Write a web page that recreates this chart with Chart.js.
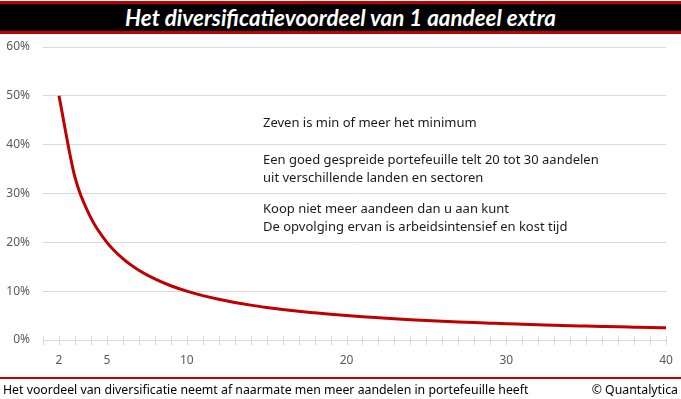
<!DOCTYPE html>
<html>
<head>
<meta charset="utf-8">
<script src="https://cdn.jsdelivr.net/npm/chart.js@4"></script>
<style>
  html, body { margin: 0; padding: 0; background: #fff; }
  #wrap { position: relative; width: 681px; height: 399px; overflow: hidden; font-family: 'Noto Sans', sans-serif; }
  #titel {
    position: absolute; left: 0; top: 1px; width: 681px; height: 27px;
    background: #000; border-top: 3px solid #c00000; border-bottom: 3px solid #c00000;
    color: #fff; font-family: Lato, sans-serif; font-style: italic; font-weight: 700;
    font-size: 22.4px; line-height: 27px; text-align: center;
  }
  #c { position: absolute; left: 0; top: 0; }
  .noot { position: absolute; left: 263px; font-size: 13px; color: #1a1a1a; line-height: 18px; white-space: nowrap; }
  #voet { position: absolute; left: 0; top: 377px; width: 681px; border-top: 2px solid #c00000; }
  #voet span { position: absolute; top: 2px; font-size: 12.3px; color: #000; white-space: nowrap; }
</style>
</head>
<body>
<div id="wrap">
  <canvas id="c" width="681" height="399"></canvas>
  <div id="titel">Het diversificatievoordeel van 1 aandeel extra</div>
  <div class="noot" style="top:113px">Zeven is min of meer het minimum</div>
  <div class="noot" style="top:150px">Een goed gespreide portefeuille telt 20 tot 30 aandelen<br>uit verschillende landen en sectoren</div>
  <div class="noot" style="top:199px">Koop niet meer aandeen dan u aan kunt<br>De opvolging ervan is arbeidsintensief en kost tijd</div>
  <div id="voet">
    <span style="left:3px">Het voordeel van diversificatie neemt af naarmate men meer aandelen in portefeuille heeft</span>
    <span style="right:3px">© Quantalytica</span>
  </div>
</div>
<script>
// aantal aandelen in de portefeuille
const aantalAandelen = [2, 3, 4, 5, 6, 7, 8, 9, 10, 11, 12, 13, 14, 15, 16, 17, 18, 19, 20,
    21, 22, 23, 24, 25, 26, 27, 28, 29, 30, 31, 32, 33, 34, 35, 36, 37, 38, 39, 40];
// voordeel van 1 aandeel extra (%)
const voordeel = [50, 33.33, 25, 20, 16.67, 14.29, 12.5, 11.11, 10, 9.09, 8.33, 7.69, 7.14, 6.67, 6.25, 5.88, 5.56, 5.26, 5,
    4.76, 4.55, 4.35, 4.17, 4, 3.85, 3.7, 3.57, 3.45, 3.33, 3.23, 3.13, 3.03, 2.94, 2.86, 2.78, 2.7, 2.63, 2.56, 2.5];
// labels die op de x-as getoond worden
const xLabels = [2, 5, 10, 20, 30, 40];
const yTicks = [0, 10, 20, 30, 40, 50, 60];

// kleine streepjes die door de x-as heen lopen
const asStreepjes = {
    id: 'asStreepjes',
    afterDraw(chart) {
        const x = chart.scales.x;
        const ctx = chart.ctx;
        const y = chart.chartArea.bottom;
        ctx.save();
        ctx.strokeStyle = '#d9d9d9';
        ctx.lineWidth = 1;
        x.ticks.forEach(t => {
            const px = Math.round(x.getPixelForValue(t.value)) + 0.5;
            ctx.beginPath();
            ctx.moveTo(px, y - 4);
            ctx.lineTo(px, y + 5);
            ctx.stroke();
        });
        ctx.restore();
    }
};

const ctx = document.getElementById('c');
new Chart(ctx, {
    type: 'line',
    data: {
        datasets: [{
            data: aantalAandelen.map((n, i) => ({ x: n, y: voordeel[i] })),
            borderColor: '#c00000',
            borderWidth: 3,
            pointRadius: 0,
            cubicInterpolationMode: 'monotone',
            fill: false
        }]
    },
    options: {
        responsive: false,
        animation: false,
        devicePixelRatio: 1,
        layout: { padding: { left: 0, top: 47, right: 15, bottom: 29 } },
        plugins: { legend: { display: false }, tooltip: { enabled: false } },
        scales: {
            x: {
                type: 'linear',
                min: 1,
                max: 40,
                afterFit: s => { s.height = 30; s.paddingLeft = 0; s.paddingRight = 0; },
                grid: { drawOnChartArea: false, drawTicks: false },
                border: { color: '#d9d9d9' },
                ticks: {
                    stepSize: 1,
                    autoSkip: false,
                    maxRotation: 0,
                    padding: 13,
                    color: '#595959',
                    font: { family: 'Noto Sans', size: 12 },
                    callback: v => xLabels.includes(v) ? String(v) : ''
                }
            },
            y: {
                min: 0,
                max: 60,
                afterFit: s => { s.width = 43; s.paddingTop = 0; s.paddingBottom = 0; },
                afterBuildTicks: s => { s.ticks = yTicks.map(v => ({ value: v })); },
                grid: { color: '#d9d9d9', drawTicks: false },
                border: { display: false },
                ticks: {
                    padding: 13,
                    color: '#595959',
                    font: { family: 'Noto Sans', size: 12 },
                    callback: v => v + '%'
                }
            }
        }
    },
    plugins: [asStreepjes]
});
</script>
</body>
</html>
